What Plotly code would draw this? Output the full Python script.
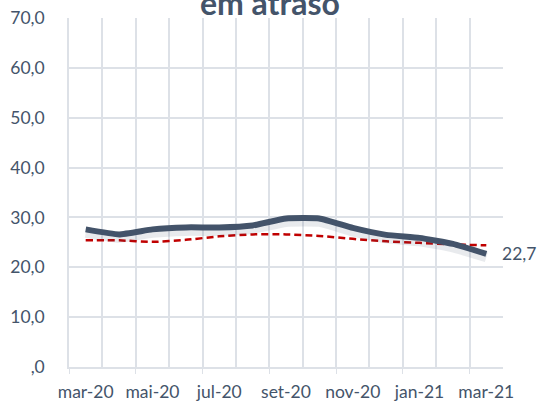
import plotly.graph_objects as go

months = ["mar-20", "abr-20", "mai-20", "jun-20", "jul-20", "ago-20", "set-20",
          "out-20", "nov-20", "dez-20", "jan-21", "fev-21", "mar-21"]
atraso = [27.6, 26.6, 27.6, 28.0, 28.0, 28.4, 29.8, 29.8, 27.9, 26.5, 25.9, 24.7, 22.7]
referencia = [25.4, 25.4, 25.1, 25.5, 26.2, 26.6, 26.6, 26.3, 25.7, 25.2, 24.9, 24.6, 24.4]
y_ticks = [0, 10, 20, 30, 40, 50, 60, 70]
y_ticktext = [",0", "10,0", "20,0", "30,0", "40,0", "50,0", "60,0", "70,0"]
title_text = "em atraso"

SLATE = "#44546A"
RED = "#C00000"
GRID = "#DDE1E7"
FONT = "Lato"
FS = 17.5

idx = list(range(len(months)))
x_range = [-0.5, len(months) - 0.5]
boundaries_every2 = [i - 0.5 for i in idx[::2]]

fig = go.Figure()

# soft shadow under the main line (same data, slightly offset axis)
fig.add_trace(go.Scatter(
    x=idx, y=atraso, mode="lines", xaxis="x2", yaxis="y2",
    line=dict(color="rgba(68,84,106,0.12)", width=10, shape="spline", smoothing=0.4),
    hoverinfo="skip", showlegend=False))

fig.add_trace(go.Scatter(
    x=idx, y=referencia, mode="lines",
    line=dict(color=RED, width=2.5, dash="7px,4px", shape="spline", smoothing=0.6),
    showlegend=False))

fig.add_trace(go.Scatter(
    x=idx, y=atraso, mode="lines",
    line=dict(color=SLATE, width=6, shape="spline", smoothing=0.4),
    showlegend=False))

fig.add_annotation(
    x=idx[-1], y=atraso[-1], xref="x", yref="y",
    text=f"{atraso[-1]:.1f}".replace(".", ","),
    showarrow=False, xanchor="left", yanchor="middle", xshift=15, borderpad=0,
    font=dict(family=FONT, size=FS, color=SLATE))

fig.update_layout(
    width=542, height=402,
    margin=dict(l=69, r=39, t=18, b=35, autoexpand=False),
    paper_bgcolor="white", plot_bgcolor="white",
    font=dict(family=FONT, size=FS, color=SLATE),
    title=dict(text=f"<b>{title_text}</b>", x=0.498, xanchor="center",
               xref="container", yref="container", y=1 - 15 / 402, yanchor="bottom",
               pad=dict(t=0, b=0, l=0, r=0),
               font=dict(family=FONT, size=32, color=SLATE)),
    xaxis=dict(
        range=x_range, tickmode="array", tickvals=boundaries_every2,
        showticklabels=False, ticks="outside", ticklen=5, tickcolor=GRID,
        showgrid=False, zeroline=False, automargin=False,
        showline=True, linecolor=GRID, linewidth=1.5,
        minor=dict(tickmode="linear", tick0=-0.5, dtick=1, showgrid=True,
                   gridcolor=GRID, gridwidth=1.5, ticks=""),
    ),
    xaxis2=dict(
        range=x_range, overlaying="x", anchor="y", side="bottom",
        tickmode="array", tickvals=idx[::2], ticktext=months[::2],
        ticks="outside", ticklen=9, tickcolor="rgba(0,0,0,0)",
        showgrid=False, zeroline=False, showline=False, automargin=False,
        tickfont=dict(family=FONT, size=FS, color=SLATE),
    ),
    yaxis=dict(
        range=[0, 70], tickmode="array", tickvals=y_ticks, ticktext=y_ticktext,
        showgrid=True, gridcolor=GRID, gridwidth=1.5, zeroline=False,
        showline=True, linecolor=GRID, linewidth=1.5, automargin=False,
        ticks="outside", ticklen=19, tickcolor="rgba(0,0,0,0)",
        tickfont=dict(family=FONT, size=FS, color=SLATE),
    ),
    yaxis2=dict(
        range=[0.7, 70.7], overlaying="y", anchor="x", side="left", automargin=False,
        showticklabels=False, showgrid=False, zeroline=False, showline=False, ticks="",
    ),
)

fig.write_html(
    "out.html",
    config={"displayModeBar": False},
    post_script="document.body.style.margin='0';document.body.style.overflow='hidden';",
)
